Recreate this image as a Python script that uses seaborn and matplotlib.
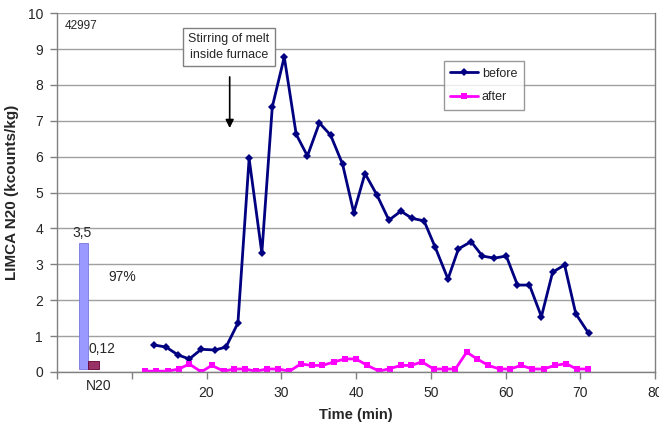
"""
LIMCA N20 antes / después de agitar el baño en el horno
"""
import pandas as pd
import matplotlib
matplotlib.use("Agg")
import matplotlib.pyplot as plt
import seaborn as sns

# datos
t_before = [13.0, 14.6, 16.2, 17.7, 19.3, 21.1, 22.6, 24.2, 25.7, 27.4, 28.8, 30.4, 32.0,
            33.5, 35.1, 36.6, 38.2, 39.7, 41.2, 42.8, 44.4, 46.0, 47.5, 49.1, 50.6, 52.3,
            53.7, 55.4, 56.9, 58.5, 60.1, 61.6, 63.2, 64.8, 66.3, 67.9, 69.4, 71.1]
n20_before = [0.75, 0.69, 0.47, 0.36, 0.63, 0.61, 0.69, 1.36, 5.95, 3.31, 7.39, 8.78, 6.62,
              6.02, 6.94, 6.60, 5.79, 4.44, 5.53, 4.93, 4.23, 4.48, 4.28, 4.21, 3.47, 2.59,
              3.43, 3.63, 3.23, 3.17, 3.23, 2.42, 2.42, 1.54, 2.78, 2.98, 1.62, 1.08]

t_after = [11.8, 13.3, 14.8, 16.3, 17.7, 19.3, 20.7, 22.3, 23.7, 25.1, 26.6, 28.1, 29.6,
           31.1, 32.6, 34.1, 35.5, 37.1, 38.5, 40.0, 41.5, 43.1, 44.5, 46.0, 47.4, 48.8,
           50.4, 51.9, 53.3, 54.8, 56.2, 57.7, 59.2, 60.6, 62.1, 63.6, 65.1, 66.6, 68.1,
           69.5, 71.0]
n20_after = [0.02, 0.02, 0.02, 0.08, 0.22, 0.0, 0.18, 0.02, 0.08, 0.08, 0.02, 0.08, 0.08,
             0.02, 0.22, 0.18, 0.18, 0.28, 0.36, 0.36, 0.18, 0.02, 0.09, 0.18, 0.18, 0.28,
             0.08, 0.08, 0.08, 0.55, 0.36, 0.18, 0.08, 0.08, 0.18, 0.08, 0.08, 0.18, 0.23,
             0.08, 0.08]

# barras de resumen (media N20)
bar_names = ['before', 'after']
bar_values = [3.5, 0.12]
bar_labels = ['3,5', '0,12']
reduction_label = '97%'

x_ticks = [0, 10, 20, 30, 40, 50, 60, 70, 80]
x_tick_labels = ['', '', '20', '30', '40', '50', '60', '70', '80']


def graficar():
    sns.set_theme(style='white')
    plt.rcParams['font.family'] = ['Liberation Sans', 'DejaVu Sans']

    df_b = pd.DataFrame({'t': t_before, 'n20': n20_before})
    df_a = pd.DataFrame({'t': t_after, 'n20': n20_after})

    fig = plt.figure(figsize=(6.59, 4.25), dpi=100)
    ax = fig.add_axes([0.0865, 0.125, 0.9075, 0.844])

    ax.yaxis.grid(True, color='#a0a0a0', lw=1)
    ax.set_axisbelow(True)

    # barras de resumen en la zona "N20"
    ax.bar([3.5, 4.85], [bar_values[0], bar_values[1] + 0.1], width=[1.2, 1.5],
           bottom=0.08, align='center',
           color=['#9999ff', '#993366'], edgecolor=['#7777dd', '#660033'], lw=0.6)
    ax.text(3.3, 3.68, bar_labels[0], fontsize=10, ha='center', va='bottom')
    ax.text(4.2, 0.45, bar_labels[1], fontsize=10, ha='left', va='bottom')
    ax.text(6.9, 2.65, reduction_label, fontsize=10, ha='left', va='center')
    ax.text(5.6, -0.38, 'N20', fontsize=10, ha='center', va='center')

    sns.lineplot(data=df_b, x='t', y='n20', ax=ax, color='#000080', lw=2,
                 marker='D', markersize=4, markeredgewidth=0, label='before')
    sns.lineplot(data=df_a, x='t', y='n20', ax=ax, color='#ff00ff', lw=2,
                 marker='s', markersize=4.5, markeredgewidth=0, label='after')

    ax.set_xlim(0, 80)
    ax.set_ylim(0, 10)
    ax.set_xticks(x_ticks)
    ax.set_xticklabels(x_tick_labels)
    ax.set_yticks(range(0, 11))
    ax.tick_params(axis='both', labelsize=10, length=5, width=1, color='#808080',
                   direction='out', bottom=True, left=True)
    ax.tick_params(axis='y', pad=5)
    ax.tick_params(axis='x', pad=5)

    for s in ax.spines.values():
        s.set_color('#808080')
        s.set_linewidth(1)
    ax.spines['top'].set_visible(False)

    ax.set_xlabel('Time (min)', fontsize=10.5, fontweight='bold', labelpad=6)
    ax.set_ylabel('LIMCA N20 (kcounts/kg)', fontsize=11, fontweight='bold', labelpad=6)

    ax.text(1.0, 9.65, '42997', fontsize=8.5, ha='left', va='center')

    # anotación de la agitación
    ax.text(23.0, 9.05, 'Stirring of melt\ninside furnace', fontsize=9, ha='center',
            va='center', linespacing=1.4,
            bbox=dict(boxstyle='square,pad=0.4', fc='white', ec='#808080', lw=1))
    ax.annotate('', xy=(23.1, 6.72), xytext=(23.1, 8.3),
                arrowprops=dict(arrowstyle='-|>', color='black', lw=1.2, mutation_scale=12))

    leg = ax.legend(loc='upper left', bbox_to_anchor=(0.636, 0.885), fontsize=9,
                    frameon=True, fancybox=False, edgecolor='#808080', handlelength=2.2,
                    handletextpad=0.3, borderpad=0.55, labelspacing=0.95)
    leg.get_frame().set_linewidth(1)

    fig.savefig('out.png', dpi=100, facecolor='white')


if __name__ == "__main__":
    graficar()
